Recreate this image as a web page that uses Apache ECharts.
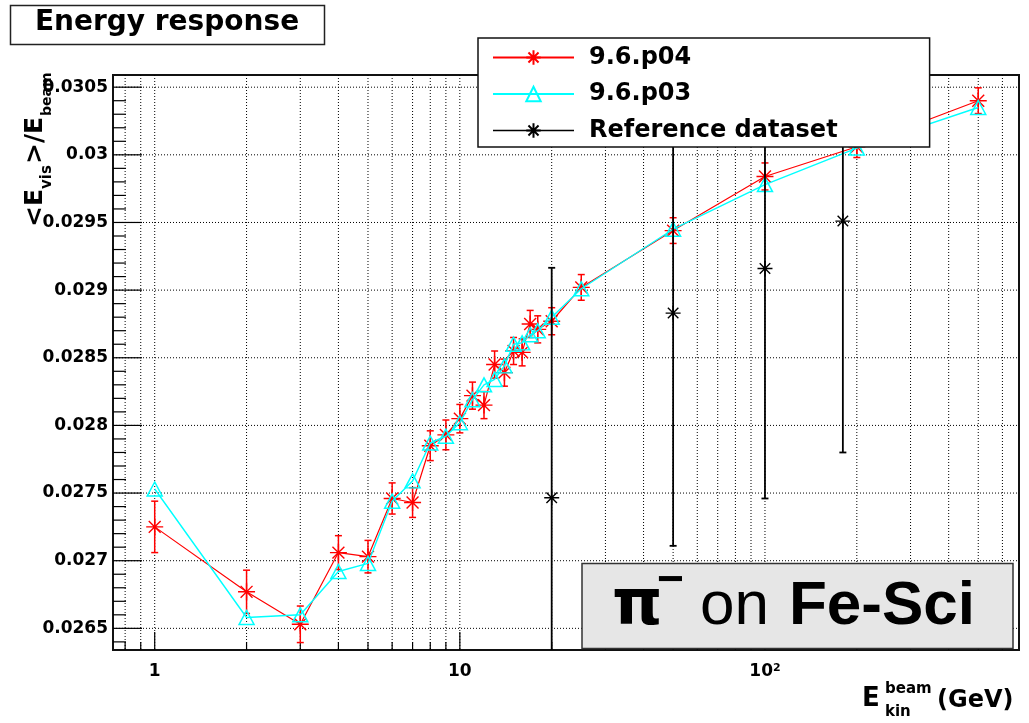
<!DOCTYPE html>
<html><head><meta charset="utf-8">
<script src="https://cdn.jsdelivr.net/npm/echarts@6/dist/echarts.min.js"></script>
<style>html,body{margin:0;padding:0;background:#fff}#c{width:1029px;height:723px}</style>
</head><body><div id="c"></div>
<script>
// ---- data ----
const energies = [1,2,3,4,5,6,7,8,9,10,11,12,13,14,15,16,17,18,20,25,50,100,200,500];
const p04Values = [0.02725,0.02677,0.02653,0.02706,0.02703,0.02746,0.02743,0.02785,0.02793,0.02805,0.02822,0.02815,0.02845,0.02839,0.02855,0.02854,0.02875,0.02871,0.02877,0.02902,0.02944,0.02984,0.03006,0.03040];
const p04Errors = [0.00019,0.00016,0.000135,0.000125,0.00012,0.000115,0.00011,0.00011,0.00011,0.000105,0.0001,0.0001,0.0001,0.0001,0.0001,0.0001,0.0001,0.0001,0.0001,0.000095,0.000095,0.0001,0.00008,0.000095];
const p03Values = [0.02753,0.02658,0.02660,0.02692,0.02698,0.02744,0.02759,0.02787,0.02792,0.02802,0.02819,0.02830,0.02834,0.02844,0.02860,0.02861,0.02867,0.02870,0.02880,0.02901,0.02945,0.02978,0.03005,0.03035];
const refEnergies = [20,50,100,180];
const refValues = [0.027465,0.02883,0.02916,0.02951];
const refErrors = [0.0017,0.00172,0.0017,0.00171];
const xGridTicks = [0.8,0.9,1,2,3,4,5,6,7,8,9,10,20,30,40,50,60,70,80,90,100,200,300,400,500,600];
const yMajorTicks = [0.0265,0.027,0.0275,0.028,0.0285,0.029,0.0295,0.03,0.0305];
const yMinorTicks = [0.0264,0.0266,0.0267,0.0268,0.0269,0.0271,0.0272,0.0273,0.0274,0.0276,0.0277,0.0278,0.0279,
  0.0281,0.0282,0.0283,0.0284,0.0286,0.0287,0.0288,0.0289,0.0291,0.0292,0.0293,0.0294,
  0.0296,0.0297,0.0298,0.0299,0.0301,0.0302,0.0303,0.0304];
const xMin = 0.73, xMax = 680, yMin = 0.02634, yMax = 0.03059;
const seriesNames = ['9.6.p04','9.6.p03','Reference dataset'];

// ---- helpers ----
const STAR = 'path://M10,0L10,20M0,10L20,10M3,3L17,17M3,17L17,3';
const FONT = '"DejaVu Sans", sans-serif';
function isPow10(v){const l=Math.log10(v);return Math.abs(l-Math.round(l))<1e-6;}
function xLabel(v){
  if(!isPow10(v)) return '';
  const e=Math.round(Math.log10(v));
  if(e===0) return '1';
  if(e===1) return '10';
  return '10{sup|'+e+'}';
}
function yLabel(v){
  for(const t of yMajorTicks){ if(Math.abs(t-v)<1e-9) return String(+t.toFixed(4)); }
  return '';
}
function errRenderer(color,width,cap){
  return function(params,api){
    const x=api.value(0), y=api.value(1), e=api.value(2);
    const t=api.coord([x,y+e]), b=api.coord([x,y-e]);
    const st={stroke:color,lineWidth:width};
    return {type:'group',children:[
      {type:'line',shape:{x1:t[0],y1:t[1],x2:b[0],y2:b[1]},style:st},
      {type:'line',shape:{x1:t[0]-cap,y1:t[1],x2:t[0]+cap,y2:t[1]},style:st},
      {type:'line',shape:{x1:b[0]-cap,y1:b[1],x2:b[0]+cap,y2:b[1]},style:st}
    ]};
  };
}

const chart = echarts.init(document.getElementById('c'), null, {renderer:'canvas'});
const option = {
  animation:false,
  backgroundColor:'#fff',
  grid:{left:113,right:10,top:75,bottom:73,show:true,borderColor:'#111',borderWidth:2,backgroundColor:'transparent',outerBoundsMode:'none'},
  xAxis:{type:'log',logBase:10,min:xMin,max:xMax,
    axisLine:{show:false},axisTick:{show:false},splitLine:{show:false},minorTick:{show:false},
    axisLabel:{formatter:xLabel,margin:13,color:'#000',fontFamily:FONT,fontWeight:'bold',fontSize:17,
      showMinLabel:false,showMaxLabel:false,
      rich:{sup:{fontSize:11,fontWeight:'bold',fontFamily:FONT,color:'#000',verticalAlign:'top'}}}},
  yAxis:{type:'value',min:yMin,max:yMax,splitNumber:8,
    axisLine:{show:false},axisTick:{show:false},splitLine:{show:false},
    axisLabel:{formatter:yLabel,margin:5,color:'#000',fontFamily:FONT,fontWeight:'bold',fontSize:17,showMinLabel:false,showMaxLabel:false}},
  legend:{orient:'vertical',left:478,top:38,padding:[4.5,92,1.5,14],itemGap:6.5,itemWidth:81,itemHeight:18,
    backgroundColor:'#fff',borderColor:'#111',borderWidth:1.5,selectedMode:false,z:10,
    textStyle:{fontFamily:FONT,fontWeight:'bold',fontSize:24,color:'#000',lineHeight:30,padding:[0,0,0,10]},
    data:[{name:seriesNames[0]},{name:seriesNames[1]},{name:seriesNames[2],lineStyle:{width:1.5,color:'#000',opacity:1}}]},
  series:[
    {type:'custom',name:'xgrid',silent:true,z:1,data:xGridTicks.map(v=>[v,yMin]),encode:{x:0,y:1},
      renderItem:function(params,api){
        const cs=params.coordSys; const x=api.coord([api.value(0),yMin])[0];
        const len=isPow10(api.value(0))?18:8; const bottom=cs.y+cs.height;
        return {type:'group',children:[
          {type:'line',shape:{x1:x,y1:cs.y,x2:x,y2:bottom},style:{stroke:'#000',lineWidth:1,lineDash:[1,2]}},
          {type:'line',shape:{x1:x,y1:bottom,x2:x,y2:bottom-len},style:{stroke:'#000',lineWidth:1.2}}
        ]};
      }},
    {type:'custom',name:'ygrid',silent:true,z:1,data:yMajorTicks.map(v=>[1,v]),encode:{x:0,y:1},
      renderItem:function(params,api){
        const cs=params.coordSys; const y=api.coord([1,api.value(1)])[1];
        return {type:'group',children:[
          {type:'line',shape:{x1:cs.x,y1:y,x2:cs.x+cs.width,y2:y},style:{stroke:'#000',lineWidth:1,lineDash:[1,2]}},
          {type:'line',shape:{x1:cs.x,y1:y,x2:cs.x+29,y2:y},style:{stroke:'#000',lineWidth:1.2}}
        ]};
      }},
    {type:'custom',name:'yminor',silent:true,z:1,data:yMinorTicks.map(v=>[1,v]),encode:{x:0,y:1},
      renderItem:function(params,api){
        const cs=params.coordSys; const y=api.coord([1,api.value(1)])[1];
        return {type:'line',shape:{x1:cs.x,y1:y,x2:cs.x+13,y2:y},style:{stroke:'#000',lineWidth:1.2}};
      }},
    {type:'custom',name:'p04err',silent:true,z:3,clip:true,
      data:energies.map((e,i)=>[e,p04Values[i],p04Errors[i]]),encode:{x:0,y:1},
      renderItem:errRenderer('#ff0000',1.5,3.5)},
    {type:'line',name:seriesNames[0],z:4,data:energies.map((e,i)=>[e,p04Values[i]]),
      symbol:STAR,symbolSize:17,showAllSymbol:true,
      lineStyle:{color:'#ff0000',width:1.2},
      itemStyle:{color:'rgba(0,0,0,0)',borderColor:'#ff0000',borderWidth:1.4}},
    {type:'line',name:seriesNames[1],z:5,data:energies.map((e,i)=>[e,p03Values[i]]),
      symbol:'triangle',symbolSize:[15,14],showAllSymbol:true,
      lineStyle:{color:'#00ffff',width:1.4},
      itemStyle:{color:'rgba(0,0,0,0)',borderColor:'#00ffff',borderWidth:1.5}},
    {type:'custom',name:'referr',silent:true,z:6,clip:true,
      data:refEnergies.map((e,i)=>[e,refValues[i],refErrors[i]]),encode:{x:0,y:1},
      renderItem:errRenderer('#000000',1.8,3.5)},
    {type:'line',name:seriesNames[2],z:7,data:refEnergies.map((e,i)=>[e,refValues[i]]),
      symbol:STAR,symbolSize:15,showAllSymbol:true,
      lineStyle:{color:'#000',width:0,opacity:0},
      itemStyle:{color:'rgba(0,0,0,0)',borderColor:'#000',borderWidth:1.4}}
  ],
  graphic:[
    {type:'rect',z:100,shape:{x:10.5,y:5.5,width:314,height:39},style:{fill:'#fff',stroke:'#222',lineWidth:1.5}},
    {type:'text',z:101,style:{text:'Energy response',x:167,y:23,textAlign:'center',textVerticalAlign:'middle',
      font:'bold 28px '+FONT,fill:'#000'}},
    {type:'group',z:100,x:35,y:227,rotation:Math.PI/2,children:[
      {type:'text',z:100,style:{text:'<E',x:0,y:0,textVerticalAlign:'middle',font:'bold 25px '+FONT,fill:'#000'}},
      {type:'text',z:100,style:{text:'vis',x:38,y:12,textVerticalAlign:'middle',font:'bold 15px '+FONT,fill:'#000'}},
      {type:'text',z:100,style:{text:'>/E',x:63,y:0,textVerticalAlign:'middle',font:'bold 25px '+FONT,fill:'#000'}},
      {type:'text',z:100,style:{text:'beam',x:111,y:12,textVerticalAlign:'middle',font:'bold 14px '+FONT,fill:'#000'}}
    ]},
    {type:'text',z:100,style:{text:'E',x:862,y:699,textVerticalAlign:'middle',font:'bold 26px '+FONT,fill:'#000'}},
    {type:'text',z:100,style:{text:'beam',x:885,y:689,textVerticalAlign:'middle',font:'bold 15px '+FONT,fill:'#000'}},
    {type:'text',z:100,style:{text:'kin',x:885,y:712,textVerticalAlign:'middle',font:'bold 15px '+FONT,fill:'#000'}},
    {type:'text',z:100,style:{text:'(GeV)',x:937,y:701,textVerticalAlign:'middle',font:'bold 24px '+FONT,fill:'#000'}},
    {type:'rect',z:100,shape:{x:582,y:563.5,width:431,height:85},style:{fill:'#e6e6e6',stroke:'#333',lineWidth:1.5}},
    {type:'text',z:101,style:{text:'π',x:612,y:607,textVerticalAlign:'middle',font:'bold 64px '+FONT,fill:'#000'}},
    {type:'text',z:101,style:{text:'−',x:657,y:581,textVerticalAlign:'middle',font:'bold 46px "Liberation Sans", sans-serif',fill:'#000'}},
    {type:'text',z:101,style:{text:'on',x:700,y:607,textVerticalAlign:'middle',font:'62px "Liberation Sans", sans-serif',fill:'#000'}},
    {type:'text',z:101,style:{text:'Fe-Sci',x:789,y:607,textVerticalAlign:'middle',font:'bold 62px "Liberation Sans", sans-serif',fill:'#000'}}
  ]
};
chart.setOption(option);
</script></body></html>
